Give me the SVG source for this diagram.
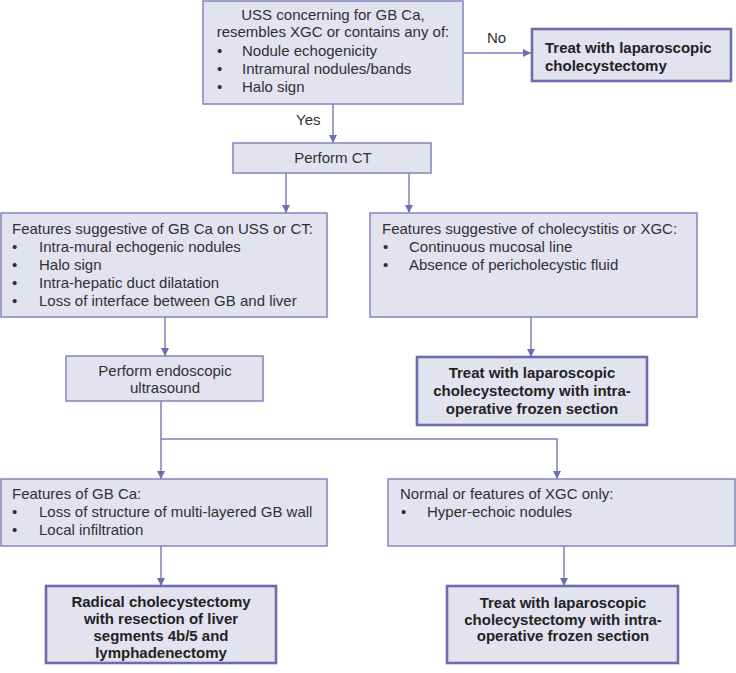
<svg xmlns="http://www.w3.org/2000/svg" width="736" height="673" viewBox="0 0 736 673">
<defs>
<marker id="arr" viewBox="0 0 10 10" refX="10" refY="5" markerWidth="8" markerHeight="8" markerUnits="userSpaceOnUse" orient="auto">
<path d="M0,0 L10,5 L0,10 z" fill="#6f6fb0"/>
</marker>
<style>
.box{fill:#e3e3f0;stroke:#8484c0;stroke-width:1.5}
.bbox{fill:#e3e3f0;stroke:#6c6cae;stroke-width:2.6}
.t{font-family:"Liberation Sans",Arial,sans-serif;font-size:15px;fill:#303030}
.b{font-family:"Liberation Sans",Arial,sans-serif;font-size:15px;font-weight:bold;fill:#222}
.c{text-anchor:middle}
.ln{fill:none;stroke:#7f7fbd;stroke-width:1.5}
</style>
</defs>
<rect width="736" height="673" fill="#ffffff"/>

<g id="connectors">
<path class="ln" d="M463,53 H531" marker-end="url(#arr)"/>
<path class="ln" d="M333,104 V143" marker-end="url(#arr)"/>
<path class="ln" d="M286,173 V213" marker-end="url(#arr)"/>
<path class="ln" d="M409,173 V213" marker-end="url(#arr)"/>
<path class="ln" d="M165,317 V356" marker-end="url(#arr)"/>
<path class="ln" d="M531,317 V357" marker-end="url(#arr)"/>
<path class="ln" d="M161,401 V479" marker-end="url(#arr)"/>
<path class="ln" d="M161,439 H557 V479" marker-end="url(#arr)"/>
<path class="ln" d="M161,546 V586" marker-end="url(#arr)"/>
<path class="ln" d="M564,546 V586" marker-end="url(#arr)"/>
<text class="t" x="487" y="43">No</text>
<text class="t" x="296" y="125">Yes</text>
</g>

<g id="n_uss">
<rect class="box" x="203" y="1" width="260" height="103"/>
<text class="t c" x="333" y="20">USS concerning for GB Ca,</text>
<text class="t c" x="333" y="37">resembles XGC or contains any of:</text>
<text class="t" x="217" y="56">•</text><text class="t" x="242" y="56">Nodule echogenicity</text>
<text class="t" x="217" y="74">•</text><text class="t" x="242" y="74">Intramural nodules/bands</text>
<text class="t" x="217" y="92">•</text><text class="t" x="242" y="92">Halo sign</text>
</g>

<g id="n_treat1">
<rect class="bbox" x="532" y="29" width="199" height="52"/>
<text class="b" x="545" y="53">Treat with laparoscopic</text>
<text class="b" x="545" y="71">cholecystectomy</text>
</g>

<g id="n_ct">
<rect class="box" x="233" y="143" width="198" height="30"/>
<text class="t c" x="333" y="163">Perform CT</text>
</g>

<g id="n_gbca">
<rect class="box" x="1" y="213" width="326" height="104"/>
<text class="t" x="12" y="234">Features suggestive of GB Ca on USS or CT:</text>
<text class="t" x="12" y="252">•</text><text class="t" x="39" y="252">Intra-mural echogenic nodules</text>
<text class="t" x="12" y="270">•</text><text class="t" x="39" y="270">Halo sign</text>
<text class="t" x="12" y="288">•</text><text class="t" x="39" y="288">Intra-hepatic duct dilatation</text>
<text class="t" x="12" y="306">•</text><text class="t" x="39" y="306">Loss of interface between GB and liver</text>
</g>

<g id="n_xgc">
<rect class="box" x="370" y="213" width="327" height="104"/>
<text class="t" x="382" y="234">Features suggestive of cholecystitis or XGC:</text>
<text class="t" x="383" y="252">•</text><text class="t" x="409" y="252">Continuous mucosal line</text>
<text class="t" x="383" y="270">•</text><text class="t" x="409" y="270">Absence of pericholecystic fluid</text>
</g>

<g id="n_eus">
<rect class="box" x="66" y="356" width="197" height="45"/>
<text class="t c" x="165" y="376">Perform endoscopic</text>
<text class="t c" x="165" y="393">ultrasound</text>
</g>

<g id="n_treat2">
<rect class="bbox" x="417" y="357" width="230" height="68"/>
<text class="b c" x="532" y="378">Treat with laparoscopic</text>
<text class="b c" x="532" y="396">cholecystectomy with intra-</text>
<text class="b c" x="532" y="414">operative frozen section</text>
</g>

<g id="n_eusca">
<rect class="box" x="1" y="479" width="326" height="67"/>
<text class="t" x="12" y="499">Features of GB Ca:</text>
<text class="t" x="12" y="517">•</text><text class="t" x="39" y="517">Loss of structure of multi-layered GB wall</text>
<text class="t" x="12" y="535">•</text><text class="t" x="39" y="535">Local infiltration</text>
</g>

<g id="n_eusxgc">
<rect class="box" x="388" y="479" width="347" height="67"/>
<text class="t" x="400" y="499">Normal or features of XGC only:</text>
<text class="t" x="401" y="517">•</text><text class="t" x="427" y="517">Hyper-echoic nodules</text>
</g>

<g id="n_radical">
<rect class="bbox" x="46" y="586" width="230" height="77"/>
<text class="b c" x="161" y="607">Radical cholecystectomy</text>
<text class="b c" x="161" y="624">with resection of liver</text>
<text class="b c" x="161" y="641">segments 4b/5 and</text>
<text class="b c" x="161" y="658">lymphadenectomy</text>
</g>

<g id="n_treat3">
<rect class="bbox" x="447" y="586" width="231" height="77"/>
<text class="b c" x="563" y="608">Treat with laparoscopic</text>
<text class="b c" x="563" y="625">cholecystectomy with intra-</text>
<text class="b c" x="563" y="641">operative frozen section</text>
</g>
</svg>
